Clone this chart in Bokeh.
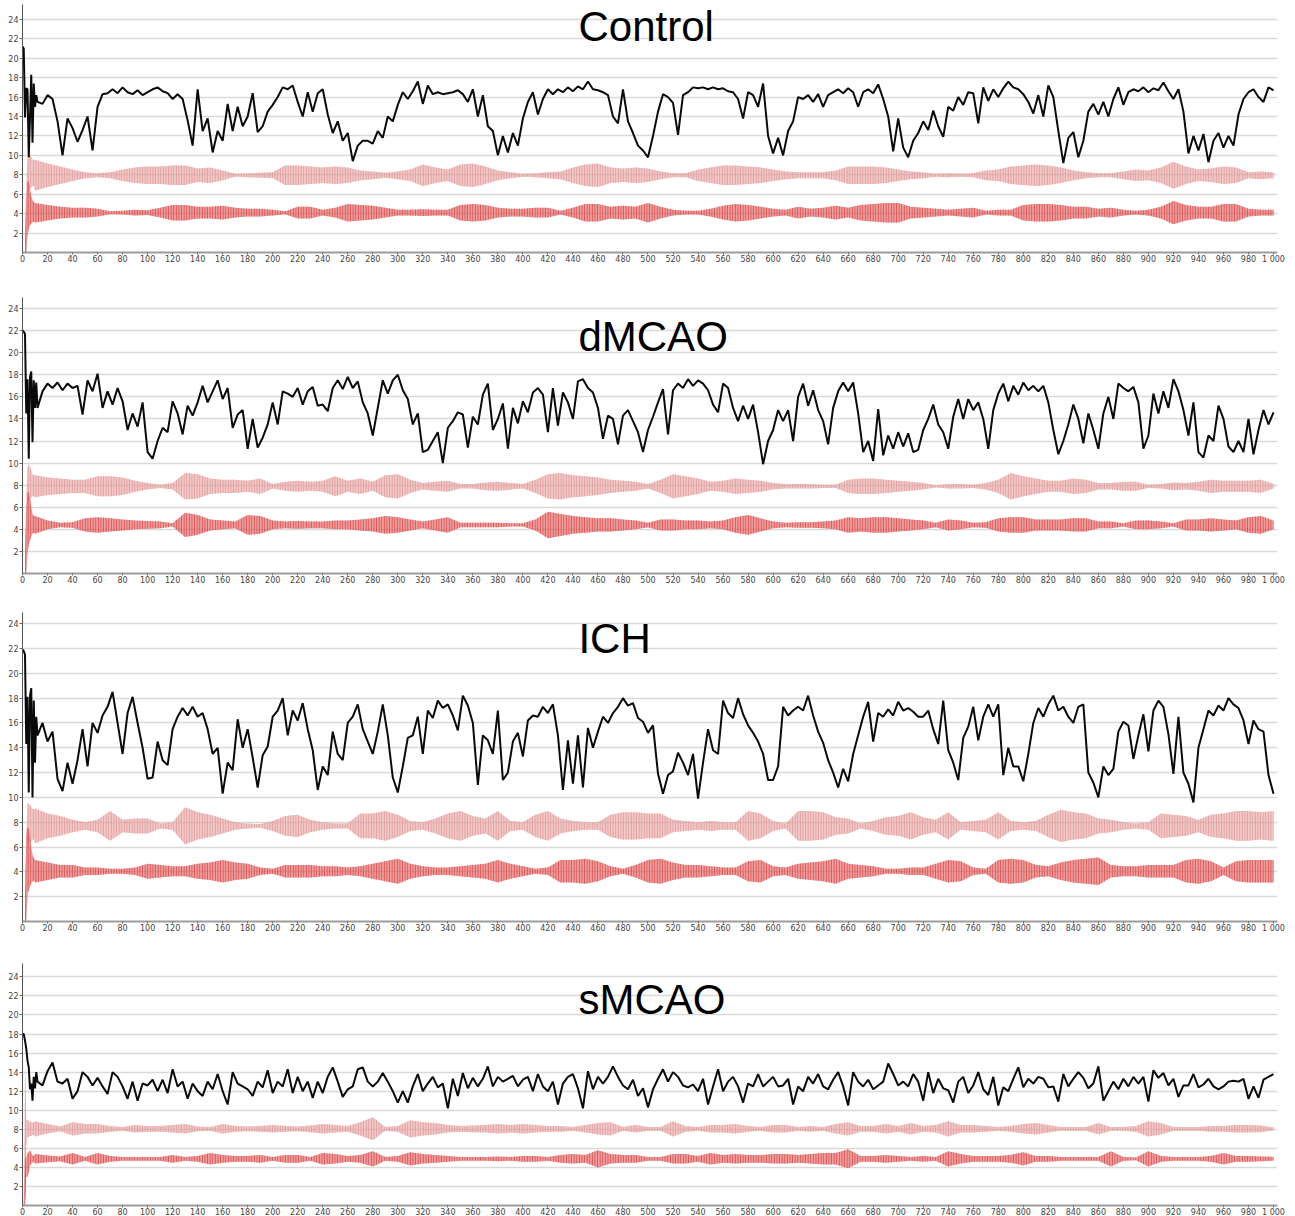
from bokeh.plotting import figure
from bokeh.layouts import column
from bokeh.models import FixedTicker, Label, Range1d
from bokeh.embed import file_html
from bokeh.resources import INLINE

# sample positions of the slow trace: every step up to 11, then every 4
T_TRACE = list(range(12)) + list(range(12, 1001, 4))
# sample positions of the oscillation envelopes: every step up to 9, then every 10
T_START = list(range(10))
T_ENV = list(range(10, 1001, 10))

X_TICKS = list(range(0, 1001, 20))
Y_TICKS = list(range(2, 25, 2))
PANEL_NAMES = ["Control", "dMCAO", "ICH", "sMCAO"]

# ---------------- Control ----------------
control_trace = [
    21.2, 21.0, 13.9, 16.9, 16.8, 9.8, 14.0, 18.3, 11.3, 17.4, 15.0, 16.2,
    15.5, 15.3, 16.2, 15.8, 13.5, 10.0, 13.8, 12.8, 11.4, 12.6,
    14.0, 10.5, 15.0, 16.3, 16.4, 16.8, 16.4, 17.0, 16.5, 16.3,
    16.7, 16.2, 16.5, 16.8, 17.0, 16.6, 16.4, 15.8, 16.3, 15.8,
    13.6, 11.0, 16.8, 12.5, 13.8, 10.3, 12.5, 11.5, 15.3, 12.5,
    15.0, 13.0, 14.0, 16.4, 12.4, 13.0, 14.5, 15.2, 16.0, 17.0,
    16.8, 17.2, 15.5, 14.0, 16.5, 14.5, 16.4, 16.8, 14.2, 12.3,
    13.5, 11.5, 12.3, 9.4, 11.0, 11.5, 11.5, 11.2, 12.5, 11.8,
    14.0, 13.5, 15.2, 16.5, 15.8, 16.6, 17.6, 15.3, 17.2, 16.3,
    16.5,
    16.3, 16.4, 16.5, 16.7, 16.3, 15.5, 16.8, 14.0, 16.2, 13.0,
    12.5, 10.0, 12.0, 10.3, 12.3, 11.0, 13.8, 15.5, 16.5, 14.2,
    15.8, 16.8, 16.3, 16.8, 16.5, 17.0, 16.6, 17.1, 16.8, 17.6,
    16.8, 16.7, 16.5, 16.2, 14.0, 13.3, 16.8, 13.5, 12.3, 11.0,
    10.5, 9.8, 12.0, 14.5, 16.3, 16.0, 15.4, 12.1, 16.2, 16.5,
    17.0, 16.9, 17.0, 16.8, 17.0, 16.8, 16.9, 16.6, 16.5, 15.8,
    13.8, 16.5, 16.2, 15.0, 17.4, 12.0, 10.2, 11.8, 10.0, 12.5,
    13.5, 16.0, 15.8, 16.2, 15.5, 16.3, 15.0, 16.2, 16.5, 16.8,
    16.4, 16.9, 16.5, 15.0,
    16.5, 16.8, 16.4, 17.3, 15.8, 14.0, 10.4, 13.8, 10.8, 9.8,
    11.5, 12.3, 13.5, 12.6, 14.6, 13.0, 11.9, 15.0, 14.6, 16.0,
    15.2, 16.5, 16.4, 13.3, 17.0, 15.6, 16.8, 16.0, 16.9, 17.6,
    17.0, 16.8, 16.3, 15.5, 14.3, 16.2, 14.0, 17.2, 16.0, 12.5,
    9.2, 11.8, 12.4, 9.8, 11.5, 14.5, 15.3, 14.2, 15.5, 14.0,
    15.8, 17.0, 15.2, 16.5, 16.8, 16.6, 17.0, 16.5, 16.9, 16.7,
    17.5, 16.6, 15.8, 16.8, 14.5, 10.2, 12.0, 10.5, 12.2, 9.3,
    11.5, 12.3, 10.8, 12.0, 11.0, 14.2, 15.8, 16.5, 16.8, 16.0,
    15.5, 17.0, 16.7,
]
control_pink_mid = 7.95
control_pink_start_lo = [0, 0, 0, 0, 6.5, 6.6, 6.6, 6.7, 6.8, 6.9]
control_pink_start_hi = [0, 0, 0, 7.3, 9.8, 10.0, 10.0, 9.8, 9.6, 9.5]
control_pink_amp = [
    1.6, 1.2, 0.9, 0.6, 0.3, 0.2, 0.3, 0.6, 0.8, 0.9,
    0.9, 1.0, 1.0, 0.7, 0.8, 0.5, 0.15, 0.2, 0.25, 0.3,
    1.0, 1.0, 0.9, 0.8, 0.9, 0.8, 0.5, 0.4, 0.25, 0.4,
    0.6, 1.1, 0.8, 0.6, 1.1, 1.2, 0.9, 0.5, 0.3, 0.15,
    0.2, 0.3, 0.4, 0.8, 1.1, 1.2, 0.8, 0.7, 0.8, 0.7,
    0.4, 0.2, 0.2, 0.6, 0.8, 1.0, 1.0, 0.9, 0.8, 0.6,
    0.4, 0.3, 0.3, 0.3, 0.5, 0.9, 0.9, 0.9, 0.8, 0.6,
    0.4, 0.3, 0.15, 0.2, 0.15, 0.2, 0.5, 0.6, 0.9, 1.0,
    1.1, 1.0, 0.8, 0.5, 0.3, 0.2, 0.2, 0.4, 0.6, 0.5,
    0.8, 1.4, 0.9, 0.6, 0.7, 0.9, 0.8, 0.3, 0.4, 0.3,
]
control_red_mid = 4.1
control_red_start_lo = [0, 0, 0, 0, 1.7, 2.5, 2.8, 3.0, 3.1, 3.2]
control_red_start_hi = [0, 0, 0, 5.5, 7.3, 7.3, 6.5, 5.8, 5.4, 5.2]
control_red_amp = [
    1.0, 0.8, 0.6, 0.5, 0.5, 0.4, 0.15, 0.2, 0.3, 0.25,
    0.5, 0.8, 0.8, 0.6, 0.6, 0.7, 0.5, 0.4, 0.4, 0.3,
    0.15, 0.6, 0.6, 0.3, 0.5, 0.9, 0.8, 0.7, 0.5, 0.3,
    0.3, 0.35, 0.3, 0.3, 0.8, 0.9, 0.8, 0.5, 0.4, 0.4,
    0.5, 0.5, 0.2, 0.5, 0.9, 0.9, 0.6, 0.7, 0.6, 1.0,
    0.6, 0.3, 0.2, 0.2, 0.4, 0.7, 0.9, 0.8, 0.6, 0.4,
    0.3, 0.6, 0.4, 0.5, 0.7, 0.5, 0.8, 0.9, 1.0, 1.0,
    0.6, 0.5, 0.4, 0.3, 0.4, 0.5, 0.2, 0.3, 0.3, 0.8,
    0.9, 0.9, 0.8, 0.6, 0.6, 0.4, 0.5, 0.3, 0.2, 0.3,
    0.6, 1.2, 0.8, 0.6, 0.6, 0.9, 0.9, 0.4, 0.3, 0.3,
]

# ---------------- dMCAO ----------------
dmcao_trace = [
    22.0, 21.9, 21.7, 14.5, 17.6, 10.4, 17.8, 18.3, 11.9, 17.5, 15.0, 17.3,
    15.0, 16.5, 17.2, 16.8, 17.3, 16.6, 17.2, 16.8, 17.0, 14.4,
    17.5, 16.5, 18.1, 15.0, 16.5, 15.3, 16.8, 15.6, 13.0, 14.5,
    13.3, 15.5, 11.0, 10.4, 12.0, 13.2, 12.8, 15.6, 14.5, 12.6,
    15.2, 14.3, 15.5, 17.0, 15.5, 16.5, 17.5, 15.8, 16.8, 13.2,
    14.4, 14.8, 11.3, 14.0, 11.4, 12.3, 13.5, 15.5, 13.5, 16.5,
    16.3, 16.0, 16.8, 15.3, 16.5, 16.9, 15.2, 15.3, 14.7, 16.8,
    17.5, 16.7, 17.8, 16.8, 17.4, 15.5, 14.5, 12.5, 15.0, 17.5,
    16.3, 17.5, 18.0, 16.6, 15.8, 13.5, 14.5, 11.0, 11.2, 12.0,
    12.8,
    10.0, 13.2, 13.8, 14.6, 14.4, 11.4, 14.2, 13.5, 16.2, 17.2,
    13.0, 14.0, 15.4, 11.3, 15.0, 13.6, 15.6, 14.6, 16.4, 16.8,
    16.2, 12.8, 16.8, 13.4, 16.4, 15.5, 14.0, 17.4, 17.6, 16.8,
    16.4, 15.0, 12.2, 14.3, 14.0, 11.7, 14.3, 14.8, 13.8, 12.8,
    11.0, 13.0, 14.2, 15.5, 16.7, 12.6, 16.6, 17.2, 16.8, 17.6,
    17.0, 17.5, 17.2, 16.6, 15.3, 14.6, 17.2, 16.8, 15.0, 13.8,
    15.2, 14.0, 15.3, 12.8, 9.9, 12.0, 13.0, 14.8, 13.8, 14.8,
    12.0, 16.0, 17.2, 15.2, 16.6, 14.8, 13.8, 11.7, 15.0, 16.5,
    17.3, 16.5, 17.3, 14.5,
    11.0, 12.0, 10.2, 14.9, 10.7, 12.5, 11.3, 12.8, 11.5, 12.7,
    11.0, 11.2, 13.0, 14.0, 15.3, 13.5, 12.8, 11.3, 14.2, 15.8,
    14.0, 15.8, 14.8, 15.5, 14.0, 11.3, 14.8, 16.3, 17.2, 15.6,
    17.0, 16.2, 17.3, 16.6, 17.0, 16.5, 17.0, 15.5, 13.0, 10.8,
    12.0, 13.5, 15.3, 14.0, 11.8, 14.5, 13.0, 11.3, 14.5, 16.0,
    14.0, 17.2, 16.8, 16.5, 16.9, 15.5, 11.3, 12.5, 16.3, 14.5,
    16.5, 15.0, 17.6, 16.5, 14.8, 12.5, 15.5, 11.0, 10.5, 12.5,
    12.0, 15.2, 14.0, 11.5, 11.0, 12.0, 11.0, 14.0, 10.8, 13.0,
    14.8, 13.5, 14.6,
]
dmcao_pink_mid = 7.9
dmcao_pink_start_lo = [0, 0, 0, 0, 6.6, 6.5, 6.7, 6.9, 7.0, 7.0]
dmcao_pink_start_hi = [0, 0, 0, 7.2, 9.6, 9.9, 9.7, 9.3, 9.0, 8.9]
dmcao_pink_amp = [
    1.0, 0.8, 0.7, 0.6, 0.6, 0.9, 0.9, 0.8, 0.5, 0.3,
    0.15, 0.3, 1.2, 1.1, 0.7, 0.6, 0.6, 0.5, 0.7, 0.2,
    0.4, 0.5, 0.4, 0.5, 0.9, 0.5, 0.7, 0.4, 1.0, 1.1,
    0.6, 0.3, 0.4, 0.5, 0.2, 0.2, 0.35, 0.4, 0.3, 0.2,
    0.6, 1.1, 1.2, 1.0, 0.9, 0.8, 0.6, 0.5, 0.4, 0.2,
    0.6, 1.1, 0.9, 0.7, 0.4, 0.5, 0.7, 0.6, 0.5, 0.3,
    0.2, 0.2, 0.2, 0.15, 0.15, 0.6, 0.7, 0.7, 0.6, 0.5,
    0.4, 0.3, 0.1, 0.2, 0.2, 0.15, 0.3, 0.6, 1.2, 0.9,
    0.7, 0.5, 0.5, 0.7, 0.6, 0.3, 0.3, 0.4, 0.4, 0.15,
    0.2, 0.35, 0.3, 0.4, 0.6, 0.5, 0.5, 0.5, 0.6, 0.2,
]
dmcao_red_mid = 4.4
dmcao_red_start_lo = [0, 0, 0, 0, 1.9, 2.6, 3.0, 3.4, 3.6, 3.7]
dmcao_red_start_hi = [0, 0, 0, 5.8, 7.3, 7.4, 6.8, 6.0, 5.4, 5.2]
dmcao_red_amp = [
    0.8, 0.4, 0.2, 0.25, 0.6, 0.7, 0.6, 0.5, 0.4, 0.35,
    0.3, 0.15, 1.1, 0.9, 0.5, 0.4, 0.3, 0.9, 0.8, 0.4,
    0.3, 0.35, 0.3, 0.3, 0.4, 0.4, 0.5, 0.6, 0.8, 0.7,
    0.5, 0.3, 0.5, 0.7, 0.2, 0.2, 0.2, 0.2, 0.15, 0.15,
    0.5, 1.2, 1.0, 0.8, 0.7, 0.6, 0.6, 0.5, 0.4, 0.2,
    0.5, 0.5, 0.4, 0.4, 0.3, 0.4, 0.7, 0.9, 0.6, 0.3,
    0.2, 0.25, 0.25, 0.3, 0.4, 0.7, 0.6, 0.7, 0.7, 0.6,
    0.5, 0.4, 0.2, 0.5, 0.4, 0.2, 0.25, 0.6, 0.7, 0.7,
    0.5, 0.5, 0.5, 0.6, 0.6, 0.3, 0.3, 0.15, 0.4, 0.4,
    0.3, 0.15, 0.5, 0.5, 0.6, 0.5, 0.4, 0.7, 0.8, 0.4,
]

# ---------------- ICH ----------------
ich_trace = [
    21.9, 21.8, 21.5, 14.3, 18.1, 10.4, 18.2, 18.8, 10.0, 17.8, 12.8, 16.5,
    15.0, 16.0, 14.5, 15.3, 11.5, 10.5, 12.8, 11.1, 13.0, 15.5,
    12.5, 16.0, 15.2, 16.6, 17.3, 18.5, 16.0, 13.5, 16.8, 18.1,
    16.0, 14.0, 11.5, 11.6, 14.5, 13.0, 12.6, 15.5, 16.5, 17.2,
    16.6, 17.3, 16.5, 16.8, 15.5, 13.5, 14.0, 10.3, 12.8, 12.2,
    16.3, 14.0, 15.5, 13.2, 10.8, 13.4, 14.1, 16.5, 17.0, 18.0,
    15.0, 17.0, 16.2, 17.6, 15.5, 13.8, 10.6, 12.5, 11.8, 15.3,
    13.5, 13.0, 16.0, 16.5, 17.5, 15.5, 14.5, 13.5, 15.3, 17.5,
    15.0, 11.6, 10.4, 12.5, 14.8, 15.0, 16.5, 13.5, 17.0, 16.4,
    17.8,
    17.2, 17.5, 16.6, 15.4, 18.2, 17.4, 16.0, 11.0, 15.0, 14.6,
    13.5, 17.0, 11.4, 12.0, 14.5, 15.2, 13.3, 16.2, 16.6, 16.5,
    17.3, 16.8, 17.5, 15.0, 10.6, 14.6, 11.1, 15.0, 10.8, 15.6,
    14.0, 15.3, 16.5, 16.0, 16.8, 17.3, 18.0, 17.4, 17.6, 16.4,
    16.1, 15.2, 15.8, 11.9, 10.3, 11.8, 12.1, 13.6, 12.8, 11.8,
    13.5, 9.9, 12.8, 15.5, 13.8, 13.5, 17.8, 16.8, 16.4, 18.0,
    16.7, 15.8, 15.2, 14.5, 13.5, 11.4, 11.4, 12.5, 17.3, 16.6,
    17.0, 17.3, 17.0, 18.2, 16.6, 15.3, 14.4, 13.0, 12.0, 10.8,
    12.3, 11.3, 13.5, 15.0,
    16.5, 17.7, 14.5, 16.8, 16.5, 17.1, 16.6, 17.7, 17.0, 17.2,
    16.9, 16.5, 16.5, 17.0, 15.5, 14.3, 17.8, 13.8, 12.8, 11.4,
    14.8, 15.7, 17.3, 14.6, 16.5, 17.5, 16.5, 17.5, 11.8, 14.0,
    12.5, 12.5, 11.3, 13.5, 16.0, 17.2, 16.5, 17.5, 18.2, 17.0,
    17.3, 16.5, 16.0, 17.3, 17.5, 12.0, 11.2, 10.0, 12.5, 11.8,
    12.3, 15.3, 16.1, 15.8, 13.1, 15.0, 16.7, 13.7, 17.0, 17.8,
    17.3, 15.1, 11.9, 16.5, 12.0, 11.1, 9.6, 14.0, 15.5, 17.0,
    16.6, 17.4, 17.0, 18.0, 17.5, 17.2, 16.2, 14.3, 16.2, 15.5,
    15.3, 11.8, 10.3,
]
ich_pink_mid = 7.7
ich_pink_start_lo = [0, 0, 0, 0, 6.5, 6.3, 6.4, 6.5, 6.6, 6.6]
ich_pink_start_hi = [0, 0, 0, 7.0, 9.5, 9.5, 9.4, 9.2, 9.1, 9.0]
ich_pink_amp = [
    1.4, 1.0, 0.8, 0.5, 0.3, 0.5, 1.2, 0.5, 0.6, 0.6,
    0.2, 0.3, 1.5, 1.1, 0.9, 0.6, 0.3, 0.2, 0.15, 0.4,
    0.8, 0.9, 0.5, 0.3, 0.2, 0.2, 1.0, 1.0, 1.2, 0.9,
    0.4, 0.3, 0.6, 1.0, 1.2, 0.8, 0.6, 1.2, 0.4, 0.3,
    0.9, 1.2, 0.6, 0.4, 0.3, 0.3, 0.9, 1.1, 1.1, 1.0,
    1.0, 0.5, 0.4, 0.3, 0.4, 0.3, 0.3, 1.2, 1.0, 0.4,
    0.2, 1.2, 1.2, 1.1, 0.7, 0.6, 0.2, 0.4, 0.7, 0.8,
    1.1, 0.7, 0.5, 1.1, 0.3, 0.4, 0.5, 1.1, 0.4, 0.3,
    0.4, 0.9, 1.3, 1.1, 1.0, 0.6, 0.5, 0.3, 0.2, 0.3,
    1.0, 0.9, 0.8, 0.5, 0.9, 1.0, 1.2, 1.2, 1.1, 1.2,
]
ich_red_mid = 4.05
ich_red_start_lo = [0, 0, 0, 0, 2.3, 2.5, 2.8, 3.1, 3.2, 3.3]
ich_red_start_hi = [0, 0, 0, 7.0, 7.6, 7.5, 6.8, 5.9, 5.4, 5.1]
ich_red_amp = [
    0.9, 0.7, 0.5, 0.5, 0.3, 0.3, 0.2, 0.2, 0.3, 0.6,
    0.5, 0.4, 0.4, 0.6, 0.7, 0.9, 0.7, 0.6, 0.3, 0.2,
    0.5, 0.5, 0.5, 0.4, 0.4, 0.3, 0.4, 0.6, 0.8, 1.0,
    0.6, 0.4, 0.3, 0.3, 0.4, 0.5, 0.6, 0.9, 0.6, 0.4,
    0.2, 0.3, 0.9, 0.9, 1.0, 0.8, 0.4, 0.2, 0.5, 0.9,
    1.0, 0.7, 0.5, 0.5, 0.4, 0.3, 0.3, 0.8, 0.9, 0.4,
    0.3, 0.6, 0.7, 0.8, 1.0, 0.6, 0.5, 0.4, 0.2, 0.2,
    0.3, 0.3, 0.6, 0.9, 0.8, 0.3, 0.2, 0.9, 1.0, 0.9,
    0.5, 0.4, 0.7, 0.9, 1.0, 1.1, 0.5, 0.4, 0.4, 0.5,
    0.5, 0.5, 0.9, 1.0, 0.8, 0.3, 0.8, 0.9, 0.9, 0.9,
]

# ---------------- sMCAO ----------------
smcao_trace = [
    18.0, 18.0, 17.3, 16.5, 15.2, 14.5, 12.2, 12.8, 11.0, 13.5, 12.3, 14.0,
    13.0, 12.6, 14.1, 15.0, 13.0, 12.8, 13.3, 11.2, 12.0, 14.0,
    13.5, 12.6, 13.4, 12.5, 11.7, 14.0, 13.5, 12.5, 11.2, 13.0,
    11.0, 12.8, 12.6, 13.2, 12.0, 13.2, 11.8, 14.3, 12.5, 13.0,
    11.2, 12.8, 12.0, 11.5, 13.0, 12.2, 13.8, 12.0, 10.6, 14.0,
    12.8, 12.5, 12.2, 11.5, 13.0, 12.4, 14.2, 11.8, 13.0, 12.5,
    14.3, 11.8, 13.5, 12.0, 13.0, 11.3, 13.0, 11.8, 13.5, 14.5,
    13.0, 11.4, 12.2, 12.5, 14.3, 14.5, 13.0, 12.5, 13.0, 13.9,
    13.0, 12.0, 10.8, 12.0, 10.8, 12.5, 13.8, 12.0, 12.8, 13.5,
    12.4,
    12.8, 10.2, 13.3, 11.5, 13.9, 12.3, 13.4, 12.5, 13.3, 14.6,
    12.5, 13.5, 13.0, 13.3, 13.6, 12.5, 13.2, 13.5, 12.0, 13.8,
    12.5, 12.0, 13.0, 10.6, 12.8, 13.5, 13.8, 12.3, 10.2, 14.1,
    12.2, 13.5, 12.8, 13.5, 14.6, 13.5, 12.6, 12.2, 13.2, 11.5,
    12.3, 10.3, 12.2, 13.3, 14.3, 13.0, 14.0, 13.5, 12.6, 12.4,
    12.7, 12.0, 13.3, 10.6, 12.5, 14.3, 12.0, 13.0, 13.5, 12.5,
    10.8, 12.8, 12.5, 13.8, 12.5, 13.0, 13.5, 12.5, 12.6, 13.3,
    10.6, 12.5, 12.0, 13.5, 12.8, 13.8, 12.5, 12.2, 13.2, 14.0,
    12.5, 10.5, 14.0, 13.0,
    12.5, 13.2, 12.2, 12.6, 13.0, 14.9, 13.8, 12.6, 13.0, 12.5,
    13.8, 13.0, 11.0, 14.0, 11.8, 13.3, 12.3, 12.1, 10.8, 13.0,
    13.5, 11.8, 12.6, 14.0, 12.2, 11.6, 13.5, 10.5, 12.4, 12.0,
    13.3, 14.5, 12.4, 13.3, 12.8, 13.5, 13.3, 12.4, 12.5, 10.9,
    13.8, 12.5, 13.3, 14.0, 13.4, 12.3, 12.8, 14.6, 11.0, 12.0,
    13.0, 12.2, 13.3, 12.5, 13.5, 12.8, 13.5, 10.9, 14.2, 13.4,
    13.9, 12.6, 13.3, 11.4, 12.6, 12.6, 13.8, 12.4, 12.7, 13.3,
    12.5, 12.2, 12.5, 13.0, 13.1, 13.0, 13.3, 11.2, 12.5, 11.3,
    13.2, 13.5, 13.8,
]
smcao_pink_mid = 8.05
smcao_pink_start_lo = [0, 0, 0, 6.0, 7.2, 7.2, 7.3, 7.3, 7.4, 7.4]
smcao_pink_start_hi = [0, 0, 14.5, 9.0, 9.0, 8.9, 8.8, 8.8, 8.7, 8.7]
smcao_pink_amp = [
    0.8, 0.5, 0.25, 0.7, 0.5, 0.5, 0.3, 0.2, 0.4, 0.3,
    0.3, 0.4, 0.5, 0.25, 0.2, 0.5, 0.3, 0.25, 0.3, 0.4,
    0.3, 0.25, 0.35, 0.5, 0.4, 0.3, 0.7, 1.2, 0.2, 0.3,
    0.9, 0.7, 0.6, 0.4, 0.3, 0.35, 0.4, 0.5, 0.4, 0.5,
    0.4, 0.3, 0.3, 0.2, 0.4, 0.6, 0.7, 0.2, 0.4, 0.2,
    0.2, 0.8, 0.3, 0.2, 0.4, 0.4, 0.5, 0.3, 0.2, 0.4,
    0.4, 0.2, 0.3, 0.2, 0.5, 0.7, 0.3, 0.3, 0.5, 0.3,
    0.6, 0.3, 0.4, 0.8, 0.4, 0.4, 0.3, 0.2, 0.3, 0.5,
    0.6, 0.4, 0.2, 0.2, 0.2, 0.6, 0.2, 0.2, 0.3, 0.8,
    0.6, 0.2, 0.2, 0.2, 0.3, 0.3, 0.4, 0.4, 0.35, 0.15,
]
smcao_red_mid = 4.9
smcao_red_start_lo = [0, 0, 0, 3.0, 3.0, 3.5, 4.2, 4.4, 4.5, 4.6]
smcao_red_start_hi = [0, 0, 5.0, 5.0, 5.5, 5.6, 5.8, 5.5, 5.3, 5.2]
smcao_red_amp = [
    0.5, 0.35, 0.25, 0.6, 0.2, 0.6, 0.3, 0.2, 0.2, 0.2,
    0.2, 0.4, 0.2, 0.3, 0.6, 0.4, 0.3, 0.3, 0.4, 0.2,
    0.4, 0.4, 0.2, 0.6, 0.5, 0.3, 0.4, 0.8, 0.2, 0.3,
    0.7, 0.5, 0.4, 0.3, 0.2, 0.2, 0.2, 0.25, 0.2, 0.3,
    0.3, 0.2, 0.4, 0.5, 0.4, 0.9, 0.5, 0.4, 0.4, 0.2,
    0.2, 0.5, 0.5, 0.3, 0.6, 0.4, 0.5, 0.4, 0.4, 0.5,
    0.5, 0.4, 0.5, 0.6, 0.6, 1.0, 0.3, 0.3, 0.4, 0.3,
    0.2, 0.3, 0.2, 0.8, 0.5, 0.3, 0.3, 0.3, 0.4, 0.7,
    0.3, 0.3, 0.2, 0.2, 0.2, 0.2, 0.8, 0.2, 0.15, 0.8,
    0.3, 0.2, 0.2, 0.2, 0.3, 0.6, 0.3, 0.3, 0.25, 0.2,
]

# ---------------- styling ----------------
TRACE_COLOR = "#0a0a0a"
PINK_COLOR = "#e6a0a0"
RED_COLOR = "#e05656"
GRID_COLOR = "#d9d9d9"
TICK_FONT = "DejaVu Sans"
TITLE_FONT = "Liberation Sans"

# per panel: border top, border bottom, total height, top of y range, title centre (data units)
FRAMES = [
    (4, 33, 285, 25.53, 23.3),
    (12, 27, 315, 25.0, 21.5),
    (12, 29, 350, 24.9, 22.8),
    (13, 12, 269, 25.4, 21.6),
]


def envelope(mid, amp, start_lo, start_hi):
    lo = start_lo + [round(mid - a, 3) for a in amp]
    hi = start_hi + [round(mid + a, 3) for a in amp]
    xs = T_START + T_ENV
    n = min(len(xs), len(lo), len(hi))
    return xs[:n], lo[:n], hi[:n]


def panel(name, trace, pink, red, frame):
    top, bottom, height, y_top, title_y = frame
    p = figure(width=1295, height=height, title=None,
               x_range=Range1d(0, 1003.2), y_range=Range1d(0, y_top),
               output_backend="svg", toolbar_location=None,
               min_border_left=22, min_border_right=18,
               min_border_top=top, min_border_bottom=bottom)
    p.outline_line_color = None
    p.background_fill_color = "white"
    p.border_fill_color = "white"

    p.xaxis.ticker = FixedTicker(ticks=X_TICKS)
    p.xaxis.major_label_overrides = {1000: "1 000"}
    p.yaxis.ticker = FixedTicker(ticks=Y_TICKS)
    p.xgrid.grid_line_color = None
    p.ygrid.grid_line_color = GRID_COLOR
    p.ygrid.grid_line_width = 1.5

    p.xaxis.axis_line_color = "#9c9c9c"
    p.xaxis.axis_line_width = 2
    p.yaxis.axis_line_color = "#555555"
    p.yaxis.axis_line_width = 1
    for ax in (p.xaxis, p.yaxis):
        ax.major_tick_in = 0
        ax.major_tick_out = 3
        ax.minor_tick_in = 0
        ax.minor_tick_out = 0
        ax.major_tick_line_color = "#666666"
        ax.major_label_text_font = TICK_FONT
        ax.major_label_text_font_size = "8px"
        ax.major_label_text_color = "#444444"
    p.xaxis.major_tick_out = 2
    p.xaxis.major_label_standoff = 0
    p.yaxis.major_label_standoff = 1

    # oscillating channels: envelope filled lightly, striped with vertical hatching
    for (mid, amp, lo0, hi0), colour in ((pink, PINK_COLOR), (red, RED_COLOR)):
        xs, lo, hi = envelope(mid, amp, lo0, hi0)
        p.varea(x=xs, y1=lo, y2=hi, fill_color=colour, fill_alpha=0.55,
                hatch_pattern="vertical_line", hatch_color=colour,
                hatch_alpha=1.0, hatch_scale=2.6, hatch_weight=1.4)

    n = min(len(T_TRACE), len(trace))
    p.line(T_TRACE[:n], trace[:n], line_color=TRACE_COLOR, line_width=2.0)

    p.add_layout(Label(x=444.4, y=title_y, text=name, text_font=TITLE_FONT,
                       text_font_size="42px", text_color="#000000",
                       text_align="left", text_baseline="middle"))
    return p


series = [
    (control_trace,
     (control_pink_mid, control_pink_amp, control_pink_start_lo, control_pink_start_hi),
     (control_red_mid, control_red_amp, control_red_start_lo, control_red_start_hi)),
    (dmcao_trace,
     (dmcao_pink_mid, dmcao_pink_amp, dmcao_pink_start_lo, dmcao_pink_start_hi),
     (dmcao_red_mid, dmcao_red_amp, dmcao_red_start_lo, dmcao_red_start_hi)),
    (ich_trace,
     (ich_pink_mid, ich_pink_amp, ich_pink_start_lo, ich_pink_start_hi),
     (ich_red_mid, ich_red_amp, ich_red_start_lo, ich_red_start_hi)),
    (smcao_trace,
     (smcao_pink_mid, smcao_pink_amp, smcao_pink_start_lo, smcao_pink_start_hi),
     (smcao_red_mid, smcao_red_amp, smcao_red_start_lo, smcao_red_start_hi)),
]

plots = [panel(name, tr, pk, rd, fr)
         for name, (tr, pk, rd), fr in zip(PANEL_NAMES, series, FRAMES)]

layout = column(*plots, spacing=0)
open("out.html", "w").write(file_html(layout, INLINE))
